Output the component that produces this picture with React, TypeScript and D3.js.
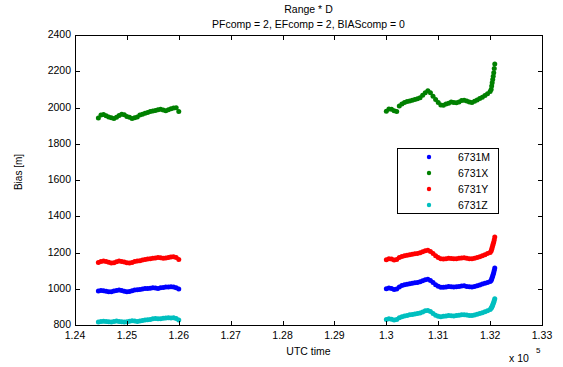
import React, { useEffect, useRef } from 'react';
import * as d3 from 'd3';

// UTC time [s] of each epoch (two passes, then the final jump)
const utcTime = [
  124450, 124500, 124550, 124600, 124650, 124700, 124750, 124800, 124850, 124900,
  124950, 125000, 125050, 125100, 125150, 125200, 125250, 125300, 125350, 125400,
  125450, 125500, 125550, 125600, 125650, 125700, 125750, 125800, 125850, 125900,
  125950, 126000,
  130000, 130050, 130100, 130150, 130200, 130250, 130300, 130350, 130400, 130450,
  130500, 130550, 130600, 130650, 130700, 130750, 130800, 130850, 130900, 130950,
  131000, 131050, 131100, 131150, 131200, 131250, 131300, 131350, 131400, 131450,
  131500, 131550, 131600, 131650, 131700, 131750, 131800, 131850, 131900, 131950,
  132000,
  132020, 132030, 132040, 132050, 132060, 132070, 132080, 132090,
];

const bias6731M = [
  987, 990, 989, 986, 984, 983, 987, 991, 993, 990,
  986, 983, 985, 989, 993, 995, 996, 998, 1001, 1002,
  1003, 1005, 1004, 1002, 1005, 1007, 1009, 1010, 1011, 1009,
  1006, 998,
  1000, 1004, 1002, 996, 998, 1010, 1018, 1022, 1025, 1028,
  1030, 1033, 1035, 1038, 1044, 1050, 1052, 1046, 1034, 1022,
  1014, 1008, 1008, 1010, 1012, 1011, 1010, 1011, 1013, 1015,
  1016, 1013, 1011, 1010, 1013, 1017, 1021, 1026, 1030, 1035,
  1040,
  1046, 1054, 1062, 1070, 1080, 1090, 1102, 1115,
];

const bias6731X = [
  1942, 1958, 1962, 1955, 1948, 1944, 1940, 1946, 1956, 1963,
  1960, 1950, 1946, 1940, 1944, 1948, 1958, 1963, 1968, 1972,
  1978, 1981, 1984, 1987, 1990, 1986, 1982, 1988, 1993, 1997,
  1999, 1978,
  1980, 1992, 1990, 1982, 1978, 2008, 2020, 2028, 2033, 2036,
  2040, 2044, 2048, 2054, 2068, 2082, 2092, 2082, 2062, 2044,
  2028, 2014, 2012, 2019, 2024, 2030, 2028, 2026, 2030, 2038,
  2040, 2036, 2031, 2028, 2034, 2042, 2050, 2057, 2066, 2076,
  2088,
  2100, 2118, 2136, 2154, 2172, 2192, 2215, 2240,
];

const bias6731Y = [
  1145, 1150, 1153, 1150, 1146, 1142, 1144, 1149, 1153, 1151,
  1147, 1143, 1142, 1145, 1150, 1153, 1155, 1158, 1161, 1164,
  1166, 1168, 1170, 1172, 1171, 1168, 1170, 1173, 1175, 1176,
  1173, 1162,
  1160, 1166, 1164, 1158, 1162, 1172, 1178, 1182, 1185, 1188,
  1190, 1193, 1195, 1198, 1204, 1210, 1212, 1206, 1194, 1182,
  1172, 1166, 1164, 1166, 1168, 1167, 1165, 1166, 1168, 1170,
  1171, 1168, 1166, 1165, 1168, 1172, 1176, 1182, 1188, 1194,
  1200,
  1208, 1218, 1228, 1238, 1248, 1258, 1270, 1285,
];

const bias6731Z = [
  816, 819, 821, 820, 818, 817, 819, 822, 820, 818,
  817, 818, 821, 823, 822, 820, 822, 825, 827, 829,
  831, 834, 836, 835, 834, 837, 839, 840, 838, 840,
  836, 827,
  830, 834, 832, 828, 830, 840, 846, 850, 853, 856,
  858, 861, 863, 866, 872, 878, 880, 874, 864, 854,
  848, 846, 848, 850, 852, 851, 850, 852, 854, 856,
  857, 855, 853, 852, 855, 859, 863, 868, 873, 879,
  886,
  892, 898, 904, 910, 918, 926, 935, 945,
];

const seriesNames = ['6731M', '6731X', '6731Y', '6731Z'];
const seriesValues = [bias6731M, bias6731X, bias6731Y, bias6731Z];
const seriesColors = ['#0000ff', '#008000', '#ff0000', '#00bfbf'];

const xTicks = [124000, 125000, 126000, 127000, 128000, 129000, 130000, 131000, 132000, 133000];
const xTickLabels = ['1.24', '1.25', '1.26', '1.27', '1.28', '1.29', '1.3', '1.31', '1.32', '1.33'];
const yTicks = [800, 1000, 1200, 1400, 1600, 1800, 2000, 2200, 2400];

const FONT = 'Liberation Sans, Arial, Helvetica, sans-serif';

const App = () => {
  const svgRef = useRef<SVGSVGElement>(null);
  const width = 563;
  const height = 367;

  useEffect(() => {
    const svg = d3.select(svgRef.current);
    svg.selectAll('*').remove();

    const left = 75, right = 542, top = 35, bottom = 325;

    const x = d3.scaleLinear().domain([124000, 133000]).range([left, right]);
    const y = d3.scaleLinear().domain([800, 2400]).range([bottom, top]);

    svg.append('rect').attr('width', width).attr('height', height).attr('fill', '#fff');

    // data dots
    seriesValues.forEach((vals, s) => {
      svg.append('g')
        .selectAll('circle')
        .data(vals)
        .enter()
        .append('circle')
        .attr('cx', (d, i) => x(utcTime[i]))
        .attr('cy', d => y(d))
        .attr('r', 2.5)
        .attr('fill', seriesColors[s]);
    });

    // axes box with inward ticks on all sides
    const tickLen = 4.5;
    const axis = svg.append('g').attr('stroke', '#000').attr('stroke-width', 1).attr('fill', 'none');
    axis.append('rect')
      .attr('x', left + 0.5).attr('y', top + 0.5)
      .attr('width', right - left).attr('height', bottom - top);

    xTicks.forEach(t => {
      const px = Math.round(x(t)) + 0.5;
      axis.append('line').attr('x1', px).attr('x2', px).attr('y1', bottom + 0.5).attr('y2', bottom + 0.5 - tickLen);
      axis.append('line').attr('x1', px).attr('x2', px).attr('y1', top + 0.5).attr('y2', top + 0.5 + tickLen);
    });
    yTicks.forEach(v => {
      const py = Math.round(y(v)) + 0.5;
      axis.append('line').attr('x1', left + 0.5).attr('x2', left + 0.5 + tickLen).attr('y1', py).attr('y2', py);
      axis.append('line').attr('x1', right + 0.5).attr('x2', right + 0.5 - tickLen).attr('y1', py).attr('y2', py);
    });

    const text = svg.append('g').attr('font-family', FONT).attr('font-size', 10.5).attr('fill', '#000');

    xTicks.forEach((t, i) => {
      text.append('text')
        .attr('x', x(t)).attr('y', bottom + 14)
        .attr('text-anchor', 'middle')
        .text(xTickLabels[i]);
    });
    yTicks.forEach(v => {
      text.append('text')
        .attr('x', left - 4).attr('y', y(v) + 3)
        .attr('text-anchor', 'end')
        .text(String(v));
    });

    // titles and labels
    const cx = (left + right) / 2;
    text.append('text').attr('x', cx).attr('y', 13).attr('text-anchor', 'middle').text('Range * D');
    text.append('text').attr('x', cx).attr('y', 28).attr('text-anchor', 'middle').text('PFcomp = 2, EFcomp = 2, BIAScomp = 0');
    text.append('text').attr('x', cx).attr('y', 355).attr('text-anchor', 'middle').text('UTC time');
    text.append('text')
      .attr('transform', `translate(22, 172) rotate(-90)`)
      .attr('text-anchor', 'middle')
      .attr('font-size', 10)
      .text('Bias [m]');
    text.append('text').attr('x', 509).attr('y', 362).text('x 10');
    text.append('text').attr('x', 536).attr('y', 353).attr('font-size', 8).text('5');

    // legend
    const legend = svg.append('g');
    legend.append('rect')
      .attr('x', 397.5).attr('y', 148.5)
      .attr('width', 101).attr('height', 65)
      .attr('fill', '#fff').attr('stroke', '#000').attr('stroke-width', 1);

    seriesNames.forEach((name, i) => {
      const ly = 157 + i * 16;
      legend.append('circle').attr('cx', 429).attr('cy', ly).attr('r', 2.2).attr('fill', seriesColors[i]);
      legend.append('text')
        .attr('x', 458).attr('y', ly + 4)
        .attr('font-family', FONT).attr('font-size', 10.5)
        .text(name);
    });
  }, []);

  return (
    <div style={{ position: 'absolute', left: 0, top: 0 }}>
      <svg ref={svgRef} width={width} height={height} style={{ display: 'block' }}></svg>
    </div>
  );
};

export default App;
